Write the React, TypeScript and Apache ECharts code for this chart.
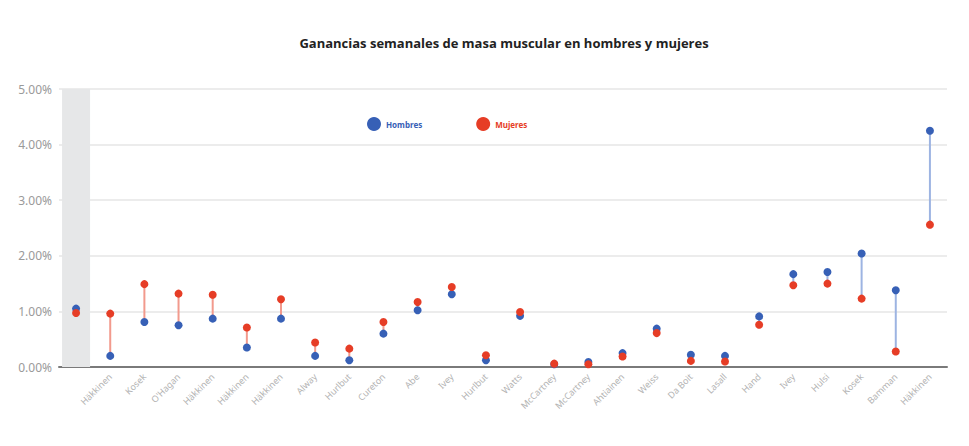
import React, { useEffect, useRef } from "react";
import * as echarts from "echarts";

const titleText = "Ganancias semanales de masa muscular en hombres y mujeres";
const categories = ["", "Häkkinen", "Kosek", "O'Hagan", "Häkkinen", "Häkkinen", "Häkkinen", "Alway", "Hurlbut", "Cureton", "Abe", "Ivey", "Hurlbut", "Watts", "McCartney", "McCartney", "Ahtiainen", "Weiss", "Da Boit", "Lasall", "Hand", "Ivey", "Hulsi", "Kosek", "Bamman", "Häkkinen"];
const hombres = [1.05, 0.2, 0.81, 0.75, 0.87, 0.35, 0.87, 0.2, 0.12, 0.6, 1.02, 1.31, 0.12, 0.92, 0.05, 0.09, 0.25, 0.69, 0.22, 0.2, 0.91, 1.67, 1.71, 2.04, 1.38, 4.25];
const mujeres = [0.97, 0.96, 1.49, 1.32, 1.3, 0.71, 1.22, 0.44, 0.33, 0.81, 1.17, 1.44, 0.21, 0.99, 0.06, 0.05, 0.19, 0.61, 0.11, 0.1, 0.76, 1.47, 1.5, 1.23, 0.28, 2.56];
const yTicks = [0, 1, 2, 3, 4, 5];
const highlightedIndex = 0;

const BLUE = "#3760b6";
const RED = "#e63d26";
const BLUE_LINE = "#9db4e2";
const RED_LINE = "#f29a8d";

export default function App() {
  const ref = useRef<HTMLDivElement>(null);
  useEffect(() => {
    if (!ref.current) return;
    const chart = echarts.init(ref.current, undefined, { renderer: "svg" });
    const yMax = yTicks[yTicks.length - 1];
    const bandData = categories.map((_, i) => (i === highlightedIndex ? yMax : "-"));
    chart.setOption({
      animation: false,
      title: {
        text: titleText,
        left: 499,
        textAlign: "center",
        top: 31,
        textStyle: { fontFamily: "Open Sans", fontWeight: "bold", fontSize: 13, color: "#222" },
      },
      legend: {
        left: 362,
        top: 112,
        itemWidth: 14,
        itemHeight: 14,
        itemGap: 54,
        icon: "circle",
        textStyle: { fontFamily: "Noto Sans", fontWeight: "bold", fontSize: 8 },
        data: [
          { name: "Hombres", textStyle: { color: BLUE } },
          { name: "Mujeres", textStyle: { color: RED } },
        ],
      },
      grid: { left: 59, right: 22, top: 89, bottom: 79, containLabel: false },
      xAxis: {
        type: "category",
        data: categories,
        axisTick: { show: false },
        axisLine: { lineStyle: { color: "#7a7a7a", width: 2 } },
        axisLabel: {
          interval: 0,
          rotate: 45,
          margin: 8,
          color: "#b3b3b3",
          fontSize: 9,
          fontFamily: "Noto Sans",
        },
        splitLine: { show: false },
      },
      yAxis: {
        type: "value",
        min: 0,
        max: yMax,
        interval: 1,
        axisLine: { show: false },
        axisTick: { show: false },
        axisLabel: {
          margin: 7,
          color: "#9a9a9a",
          fontSize: 12,
          fontFamily: "Noto Sans",
          formatter: (v: number) => v.toFixed(2) + "%",
        },
        splitLine: { lineStyle: { color: "#e6e6e6", width: 1.5 } },
      },
      series: [
        {
          type: "bar",
          name: "band",
          data: bandData,
          barWidth: 28,
          silent: true,
          z: 0,
          itemStyle: { color: "#e6e7e8" },
        },
        {
          type: "custom",
          name: "diff",
          silent: true,
          z: 1,
          encode: { x: 0, y: [1, 2] },
          data: categories.map((_, i) => [i, hombres[i], mujeres[i]]),
          renderItem: (params: any, api: any) => {
            const i = api.value(0);
            const h = api.value(1);
            const m = api.value(2);
            const p1 = api.coord([i, h]);
            const p2 = api.coord([i, m]);
            return {
              type: "line",
              shape: { x1: p1[0], y1: p1[1], x2: p2[0], y2: p2[1] },
              style: { stroke: h > m ? BLUE_LINE : RED_LINE, lineWidth: 2 },
            };
          },
        },
        {
          type: "scatter",
          name: "Hombres",
          z: 2,
          symbolSize: 8,
          itemStyle: { color: BLUE, opacity: 1 },
          data: hombres.map((v, i) => [i, v]),
        },
        {
          type: "scatter",
          name: "Mujeres",
          z: 3,
          symbolSize: 8,
          itemStyle: { color: RED, opacity: 1 },
          data: mujeres.map((v, i) => [i, v]),
        },
      ],
    });
    return () => chart.dispose();
  }, []);
  return (
    <div
      ref={ref}
      style={{ position: "fixed", left: 0, top: 0, width: 969, height: 446, background: "#fff" }}
    />
  );
}
